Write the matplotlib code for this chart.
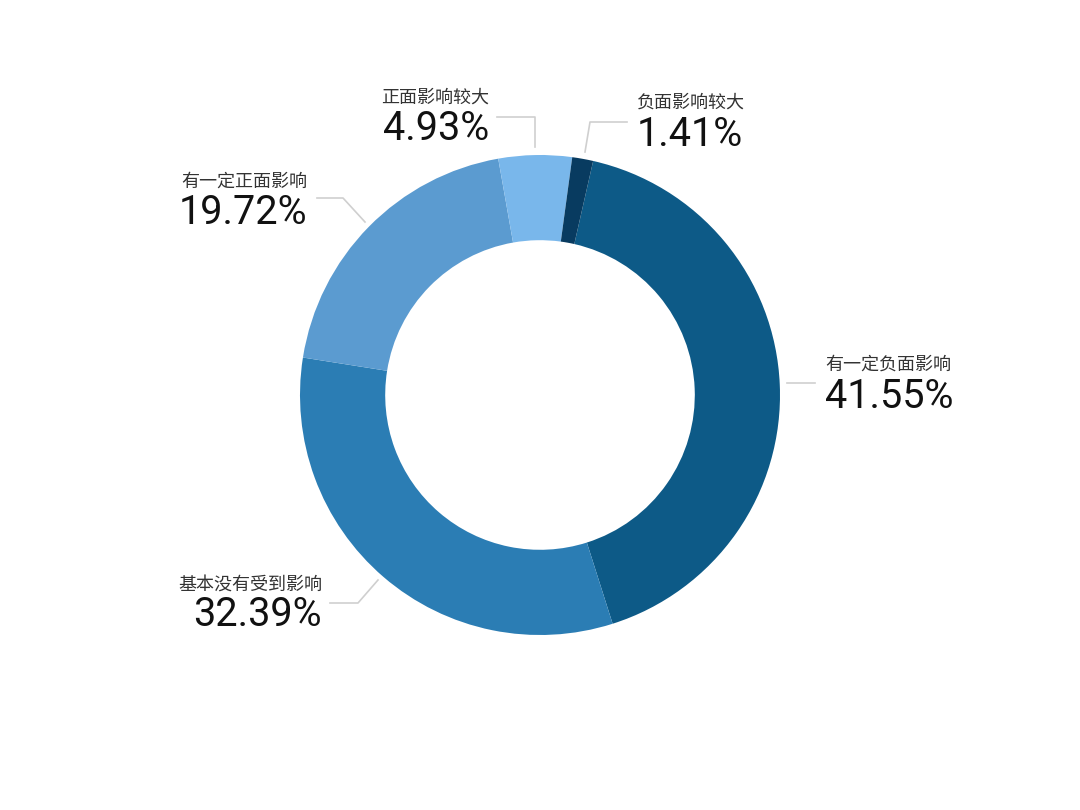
import matplotlib.pyplot as plt

# order: clockwise from the top-right slice
labels = ['有一定负面影响', '基本没有受到影响', '有一定正面影响', '正面影响较大', '负面影响较大']
values = [41.55, 32.39, 19.72, 4.93, 1.41]
colors = ['#0d5a87', '#2b7db4', '#5b9bd0', '#79b7eb', '#083b60']

W, H = 1080, 810
fig = plt.figure(figsize=(W / 100, H / 100), dpi=100)
ax = fig.add_axes([0, 0, 1, 1])

cx, cy, R = 540, H - 395, 240
ax.pie(values, colors=colors, startangle=77.2, counterclock=False,
       center=(cx, cy), radius=R,
       wedgeprops=dict(width=R * 0.355, edgecolor='none'))
ax.set_xlim(0, W)
ax.set_ylim(0, H)
ax.set_aspect('equal')
ax.axis('off')

def Y(y):
    return H - y

# leader lines, points in image px (y down)
leaders = [
    [(787, 383), (815, 383)],
    [(378, 580), (358, 603), (330, 603)],
    [(365, 222), (343, 198), (317, 198)],
    [(535, 147), (535, 117), (497, 117)],
    [(585, 152), (590, 122), (627, 122)],
]
for pts in leaders:
    ax.plot([p[0] for p in pts], [Y(p[1]) for p in pts], color='#cfcfcf', lw=1.2)

# text anchors: x, centre y of category line, centre y of percentage, alignment
anchors = [
    (825, 365, 396, 'left'),
    (322, 585, 615, 'right'),
    (307, 182, 212, 'right'),
    (489, 98, 129, 'right'),
    (637, 103, 135, 'left'),
]
cjk = ['Noto Sans CJK SC', 'DejaVu Sans']
for (x, yc, yp, ha), lab, v in zip(anchors, labels, values):
    ax.text(x, Y(yc), lab, ha=ha, va='center', fontsize=13, color='#333333', family=cjk)
    ax.text(x, Y(yp), f'{v:.2f}%', ha=ha, va='center',
            fontsize=28.5, color='#111111', family='Roboto', fontweight='normal')

fig.savefig('out.png', dpi=100, facecolor='white')
